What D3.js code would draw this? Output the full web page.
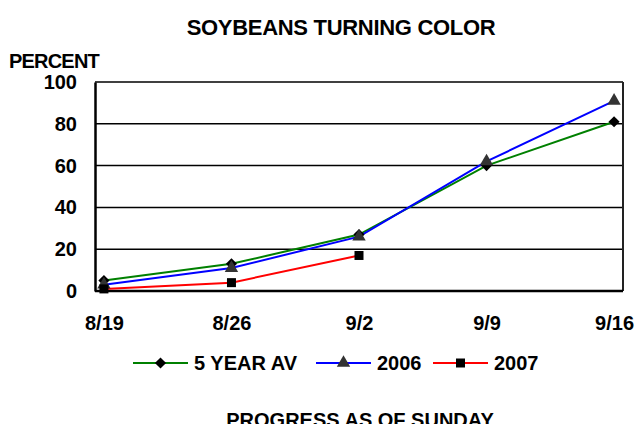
<!DOCTYPE html>
<html>
<head>
<meta charset="utf-8">
<script src="https://cdn.jsdelivr.net/npm/d3@7"></script>
<style>
  body { margin: 0; background: #fff; }
  text { font-family: "Liberation Sans", Arial, sans-serif; font-weight: bold; fill: #000; }
</style>
</head>
<body>
<svg width="636" height="424"></svg>
<script>
// chart data
var weeks = ["8/19", "8/26", "9/2", "9/9", "9/16"];
var fiveYear = [5, 13, 27, 60, 81];
var y2006 = [3, 11, 26, 62, 91];
var y2007 = [1, 4, 17];
var yTicks = [0, 20, 40, 60, 80, 100];

// diamond = square turned 45 degrees
var diamond = {
  draw: function(context, size) {
    var r = Math.sqrt(size / 2);
    context.moveTo(0, -r);
    context.lineTo(r, 0);
    context.lineTo(0, r);
    context.lineTo(-r, 0);
    context.closePath();
  }
};

var series = [
  {name: "5 YEAR AV", values: fiveYear, color: "#008000", symbol: diamond, size: 62, fill: "#000"},
  {name: "2006", values: y2006, color: "#0000ff", symbol: d3.symbolTriangle, size: 78, fill: "#333"},
  {name: "2007", values: y2007, color: "#ff0000", symbol: d3.symbolSquare, size: 81, fill: "#000"}
];

var svg = d3.select("svg"),
    margin = {top: 82, right: 13, bottom: 133, left: 95},
    width = +svg.attr("width") - margin.left - margin.right,
    height = +svg.attr("height") - margin.top - margin.bottom;

var x = d3.scalePoint().domain(weeks).range([0, width]).padding(0.07),
    y = d3.scaleLinear().domain([0, 100]).range([height, 0]);

var g = svg.append("g")
    .attr("transform", "translate(" + margin.left + "," + margin.top + ")");

// title
svg.append("text")
    .attr("x", 341).attr("y", 35)
    .attr("text-anchor", "middle")
    .style("font-size", "22px")
    .style("letter-spacing", "-0.3px")
    .text("SOYBEANS TURNING COLOR");

svg.append("text")
    .attr("x", 9).attr("y", 68)
    .style("font-size", "20px")
    .style("letter-spacing", "-0.8px")
    .text("PERCENT");

// gridlines
g.selectAll(".grid")
    .data(yTicks.filter(function(d) { return d > 0; }))
  .enter().append("line")
    .attr("x1", 0).attr("x2", width)
    .attr("y1", function(d) { return y(d); })
    .attr("y2", function(d) { return y(d); })
    .attr("stroke", "#000")
    .attr("stroke-width", 1.5);

// right border
g.append("line")
    .attr("x1", width).attr("x2", width)
    .attr("y1", 0).attr("y2", height)
    .attr("stroke", "#222").attr("stroke-width", 2);

// axes
var yAxis = g.append("g")
    .call(d3.axisLeft(y).tickValues(yTicks).tickSize(0).tickPadding(18));
yAxis.select(".domain").attr("stroke-width", 2.5);
yAxis.selectAll("text").style("font-size", "20px");

var xAxis = g.append("g")
    .attr("transform", "translate(0," + height + ")")
    .call(d3.axisBottom(x).tickSize(0).tickPadding(25));
xAxis.select(".domain").attr("d", "M0,0H" + width).attr("stroke-width", 2.5);
xAxis.selectAll("text").style("font-size", "20px");

// lines and markers
var line = d3.line()
    .x(function(d, i) { return x(weeks[i]); })
    .y(function(d) { return y(d); });

series.forEach(function(s) {
  g.append("path")
      .datum(s.values)
      .attr("fill", "none")
      .attr("stroke", s.color)
      .attr("stroke-width", 2)
      .attr("d", line);
});

series.forEach(function(s) {
  g.selectAll(null)
      .data(s.values)
    .enter().append("path")
      .attr("d", d3.symbol().type(s.symbol).size(s.size))
      .attr("fill", s.fill)
      .attr("transform", function(d, i) {
        return "translate(" + x(weeks[i]) + "," + y(d) + ")";
      });
});

// legend
var legendX = [133, 316, 433];
var legend = svg.selectAll(".legend")
    .data(series)
  .enter().append("g")
    .attr("transform", function(d, i) { return "translate(" + legendX[i] + ",363)"; });

legend.append("line")
    .attr("x1", 0).attr("x2", 55)
    .attr("stroke", function(d) { return d.color; })
    .attr("stroke-width", 2);

legend.append("path")
    .attr("d", function(d) { return d3.symbol().type(d.symbol).size(d.size)(); })
    .attr("fill", function(d) { return d.fill; })
    .attr("transform", "translate(27.5,0)");

legend.append("text")
    .attr("x", 61).attr("y", 7)
    .style("font-size", "20px")
    .text(function(d) { return d.name; });

// bottom caption, cut off by the lower edge as in the original
svg.append("text")
    .attr("x", 360).attr("y", 427)
    .attr("text-anchor", "middle")
    .style("font-size", "20px")
    .text("PROGRESS AS OF SUNDAY");
</script>
</body>
</html>
